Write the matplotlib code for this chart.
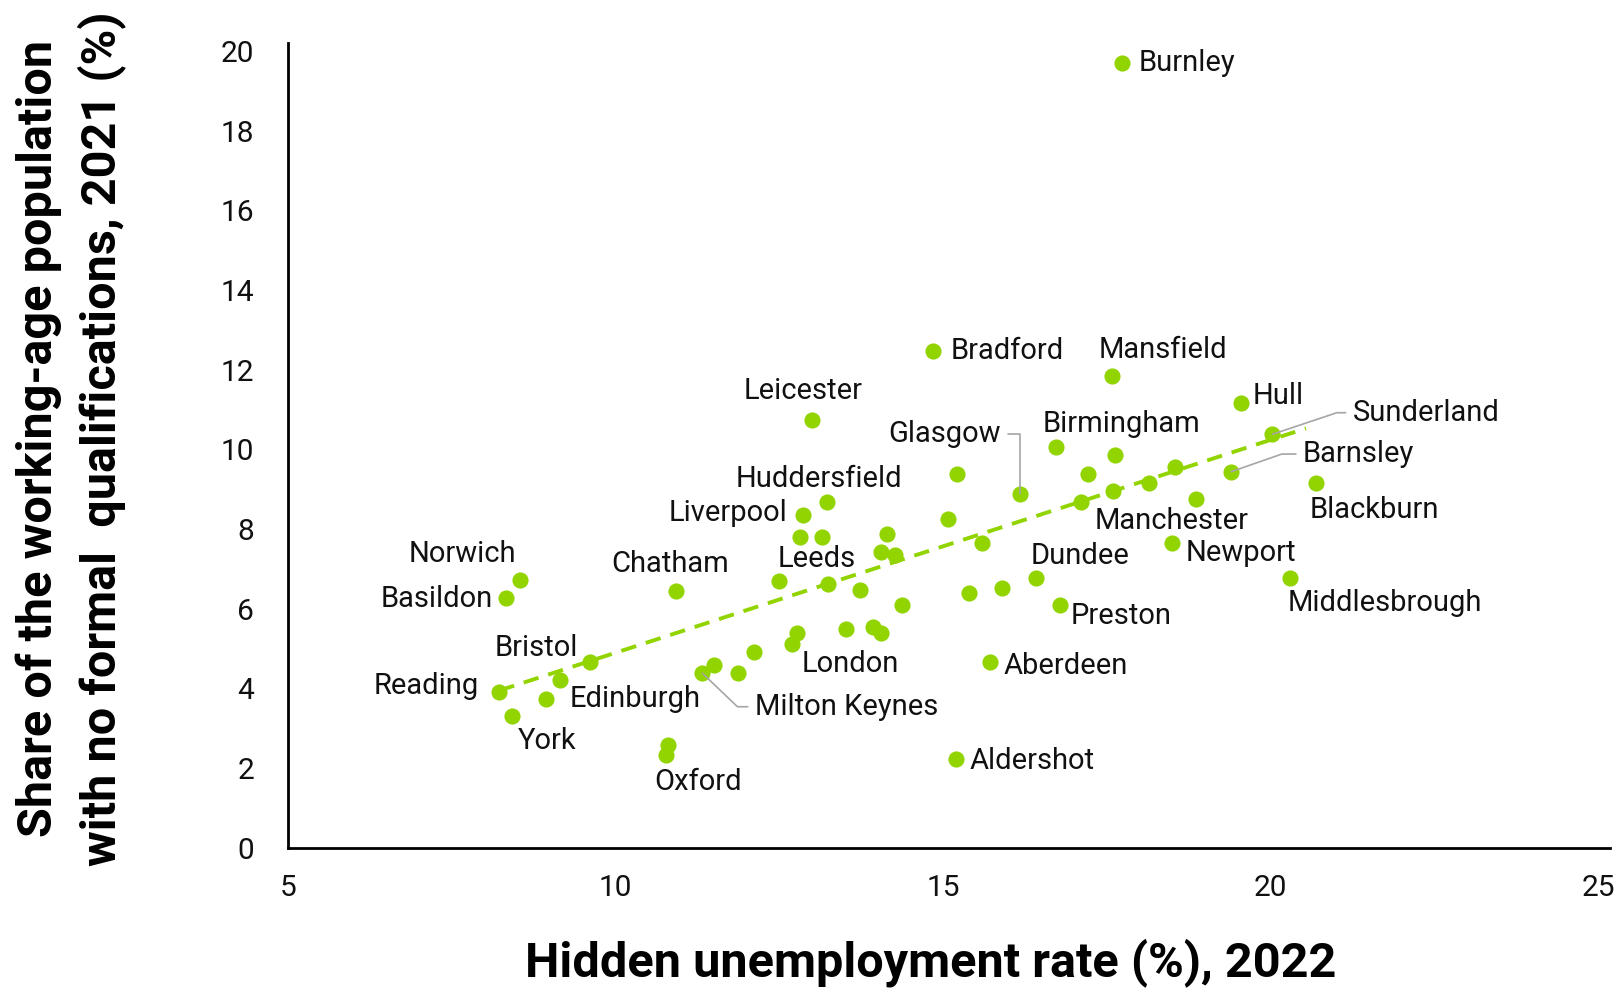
import numpy as np
import matplotlib.pyplot as plt

plt.rcParams['font.family'] = ['Roboto', 'DejaVu Sans']

# ---- data ----
hidden_unemp = [17.73, 14.85, 17.58, 19.55, 13.00, 20.03, 16.73, 17.63, 18.54, 19.40,
                17.21, 15.21, 18.15, 20.69, 17.59, 16.18, 18.87, 17.11, 13.23, 12.86,
                15.08, 12.82, 13.15, 14.14, 15.60, 18.49, 14.06, 14.27, 8.55, 20.30,
                16.42, 12.50, 13.25, 15.90, 13.73, 10.92, 15.40, 8.33, 16.79, 14.37,
                13.52, 13.94, 14.05, 12.77, 12.69, 12.11, 9.62, 15.72, 11.51, 11.88,
                11.33, 9.16, 8.23, 8.95, 8.43, 10.80, 10.78, 15.20]
no_quals = [19.70, 12.47, 11.85, 11.17, 10.74, 10.38, 10.05, 9.86, 9.57, 9.44,
            9.38, 9.37, 9.15, 9.15, 8.96, 8.87, 8.75, 8.69, 8.67, 8.35,
            8.24, 7.81, 7.81, 7.87, 7.66, 7.64, 7.42, 7.36, 6.72, 6.78,
            6.76, 6.70, 6.61, 6.53, 6.47, 6.45, 6.40, 6.28, 6.10, 6.09,
            5.48, 5.55, 5.40, 5.38, 5.12, 4.91, 4.67, 4.67, 4.59, 4.38,
            4.38, 4.21, 3.90, 3.73, 3.31, 2.59, 2.34, 2.24]
places = ['Burnley', 'Bradford', 'Mansfield', 'Hull', 'Leicester', 'Sunderland', 'Birmingham', '', '', 'Barnsley',
          '', '', 'Manchester', 'Blackburn', '', 'Glasgow', '', '', 'Huddersfield', 'Liverpool',
          '', '', '', '', '', 'Newport', '', '', 'Norwich', 'Middlesbrough',
          'Dundee', '', 'Leeds', '', '', 'Chatham', '', 'Basildon', 'Preston', '',
          'London', '', '', '', '', '', 'Bristol', 'Aberdeen', '', '',
          'Milton Keynes', 'Edinburgh', 'Reading', '', 'York', '', 'Oxford', 'Aldershot']

# label offsets in points from the dot, and horizontal alignment
label_pos = {
    'Burnley': (12, 0, 'left'), 'Bradford': (12.6, 0, 'left'),
    'Mansfield': (37, 18.6, 'center'), 'Hull': (8, 5, 'left'),
    'Leicester': (-6, 21, 'center'), 'Huddersfield': (-6, 17, 'center'),
    'Liverpool': (-11, 1.5, 'right'), 'Birmingham': (47, 17, 'center'),
    'Manchester': (16, -27, 'center'), 'Newport': (10, -7, 'left'),
    'Middlesbrough': (68, -18.6, 'center'), 'Blackburn': (-4.5, -19, 'left'),
    'Dundee': (32, 16, 'center'), 'Preston': (7.4, -8, 'left'),
    'Aberdeen': (9.7, -3, 'left'), 'Aldershot': (9.7, -2, 'left'),
    'London': (3, -25, 'center'), 'Leeds': (-8, 18, 'center'),
    'Chatham': (-4, 19, 'center'), 'Norwich': (-42, 19, 'center'),
    'Basildon': (-9.7, -0.7, 'right'), 'Bristol': (-39, 10, 'center'),
    'Reading': (-15, 4.5, 'right'), 'Edinburgh': (7, -14, 'left'),
    'York': (25, -18, 'center'), 'Oxford': (23, -20, 'center'),
    'Sunderland': (57.7, 15.5, 'left'), 'Barnsley': (51.6, 12.7, 'left'),
    'Milton Keynes': (37.6, -24.1, 'left'), 'Glasgow': (-13.9, 43.3, 'right'),
}
# labels with a grey leader line: angle of the segment at the dot
leaders = {'Sunderland': 18.5, 'Barnsley': 19.2, 'Milton Keynes': -43.7, 'Glasgow': 90}

GREEN = '#92D400'

fig = plt.figure(figsize=(16.18, 9.9), dpi=100)
ax = fig.add_axes([0.1778, 0.1437, 0.8172, 0.8132])

ax.scatter(hidden_unemp, no_quals, s=135, color=GREEN, linewidths=0, zorder=2)

# linear trend line
slope, icept = np.polyfit(hidden_unemp, no_quals, 1)
xt = np.array([min(hidden_unemp), max(hidden_unemp) - 0.15])
ax.plot(xt, slope * xt + icept, color=GREEN, lw=2.8, dashes=(4, 2.6), zorder=3)

for name, xv, yv in zip(places, hidden_unemp, no_quals):
    if not name:
        continue
    dx, dy, ha = label_pos[name]
    kw = {}
    if name in leaders:
        relx = 1 if ha == 'right' else 0
        kw['arrowprops'] = dict(arrowstyle='-', color='#a6a6a6', lw=1.2,
                                shrinkA=3, shrinkB=0, relpos=(relx, 0.5),
                                connectionstyle='angle,angleA=0,angleB=%g,rad=0' % leaders[name])
    ax.annotate(name, (xv, yv), xytext=(dx, dy), textcoords='offset points',
                ha=ha, va='center', fontsize=21, color='#111111', zorder=4, **kw)

ax.set_xlim(5, 25.18)
ax.set_ylim(0, 20.21)
ax.set_xticks(range(5, 26, 5))
ax.set_yticks(range(0, 21, 2))
ax.tick_params(length=0, labelsize=21.5, labelcolor='#111111')
ax.tick_params(axis='y', pad=24)
ax.tick_params(axis='x', pad=19)
for s in ['top', 'right']:
    ax.spines[s].set_visible(False)
for s in ['left', 'bottom']:
    ax.spines[s].set_linewidth(2)

ax.set_xlabel('Hidden unemployment rate (%), 2022', fontsize=35, fontweight='bold')
ax.xaxis.set_label_coords(0.4865, -0.1432)
ax.xaxis.label.set_va('center')
ax.set_ylabel('Share of the working-age population\nwith no formal  qualifications, 2021 (%)',
              fontsize=35, fontweight='bold', linespacing=1.38)
ax.yaxis.set_label_coords(-0.1641, 0.508)
ax.yaxis.label.set_va('center')

fig.savefig('out.png', dpi=100)
